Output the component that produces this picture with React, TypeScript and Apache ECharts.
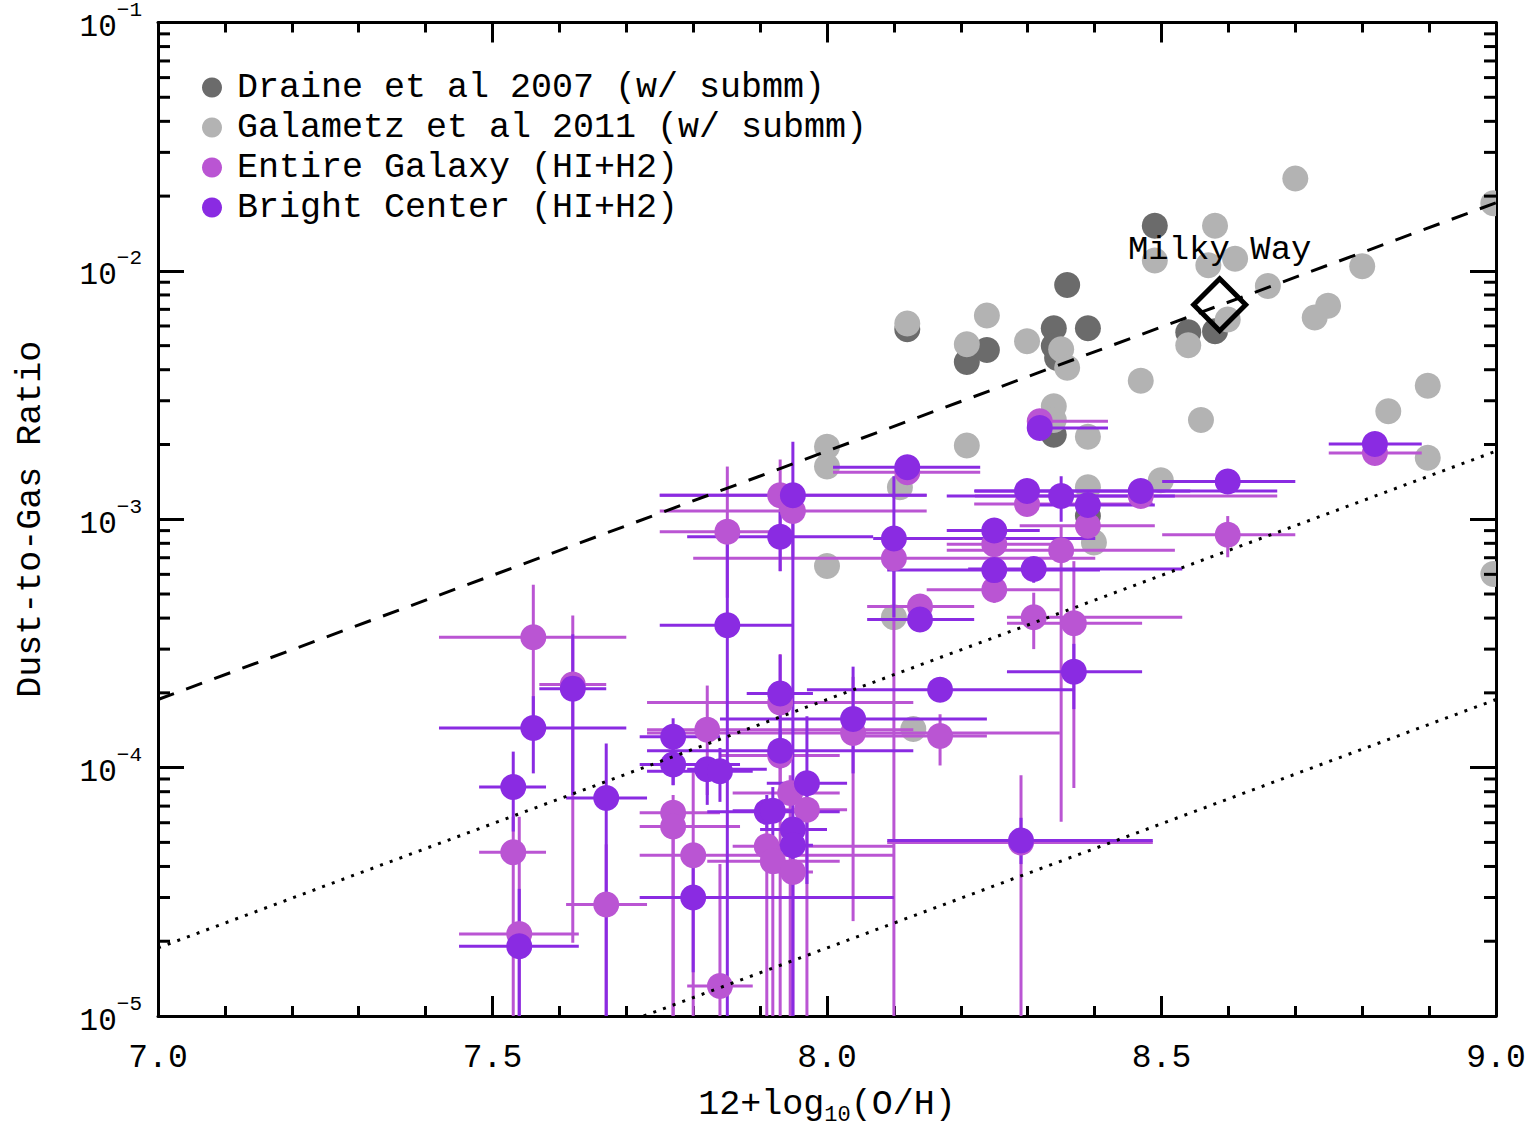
import React, { useEffect, useRef } from "react";
import * as echarts from "echarts";

const FONT = '"Liberation Mono", "DejaVu Sans Mono", monospace';

// Axis ranges and tick values
const X_MIN = 7.0;
const X_MAX = 9.0;
const X_INTERVAL = 0.5;
const Y_MIN = 1e-5;
const Y_MAX = 1e-1;
const Y_MINOR_TICKS = [
  2e-5, 3e-5, 4e-5, 5e-5, 6e-5, 7e-5, 8e-5, 9e-5,
  2e-4, 3e-4, 4e-4, 5e-4, 6e-4, 7e-4, 8e-4, 9e-4,
  2e-3, 3e-3, 4e-3, 5e-3, 6e-3, 7e-3, 8e-3, 9e-3,
  2e-2, 3e-2, 4e-2, 5e-2, 6e-2, 7e-2, 8e-2, 9e-2,
];

// Series names
const NAME_DRAINE = "Draine et al 2007 (w/ submm)";
const NAME_GALAMETZ = "Galametz et al 2011 (w/ submm)";
const NAME_ENTIRE = "Entire Galaxy (HI+H2)";
const NAME_BRIGHT = "Bright Center (HI+H2)";

// Draine et al 2007: [12+log(O/H), DGR]
const draine: number[][] = [
  [8.490, 1.52e-2], [8.359, 8.77e-3], [8.120, 5.82e-3], [8.209, 4.30e-3],
  [8.239, 4.80e-3], [8.339, 5.87e-3], [8.339, 4.98e-3], [8.344, 4.46e-3],
  [8.390, 5.87e-3], [8.540, 5.66e-3], [8.580, 5.71e-3], [8.339, 2.19e-3],
  [8.390, 1.03e-3],
];

// Galametz et al 2011: [12+log(O/H), DGR]
const galametz: number[][] = [
  [8.490, 1.10e-2], [8.239, 6.61e-3], [8.120, 6.14e-3], [8.209, 5.07e-3],
  [8.299, 5.21e-3], [8.350, 4.84e-3], [8.359, 4.07e-3], [8.469, 3.61e-3],
  [8.339, 2.85e-3], [8.339, 2.51e-3], [8.390, 2.15e-3], [8.209, 1.98e-3],
  [8.499, 1.436e-3], [8.000, 1.96e-3], [8.000, 1.63e-3], [8.109, 1.345e-3],
  [8.000, 6.48e-4], [8.100, 4.03e-4], [8.129, 1.43e-4], [8.399, 8.07e-4],
  [8.559, 2.51e-3], [8.700, 2.355e-2], [8.580, 1.52e-2], [8.570, 1.054e-2],
  [8.610, 1.12e-2], [8.659, 8.69e-3], [8.800, 1.045e-2], [8.996, 1.87e-2],
  [8.540, 5.02e-3], [8.599, 6.37e-3], [8.749, 7.24e-3], [8.729, 6.49e-3],
  [8.898, 3.45e-3], [8.839, 2.72e-3], [8.898, 1.77e-3], [8.996, 6.02e-4],
  [8.390, 1.345e-3],
];

// Entire Galaxy: [x, y, xLow, xHigh, yLow, yHigh]
const entireGalaxy: number[][] = [
  [7.561, 3.35e-4, 7.420, 7.700, 1.61e-4, 5.45e-4],
  [7.620, 2.16e-4, 7.570, 7.670, 1.97e-5, 4.10e-4],
  [7.531, 4.56e-5, 7.480, 7.580, 5e-6, 6.34e-5],
  [7.540, 2.14e-5, 7.450, 7.629, 5e-6, 6.34e-5],
  [7.670, 2.81e-5, 7.610, 7.731, 5e-6, 4.91e-5],
  [7.770, 6.58e-5, 7.720, 7.840, 5e-6, 7.76e-5],
  [7.770, 5.79e-5, 7.720, 7.870, 5e-6, 7.08e-5],
  [7.800, 4.44e-5, 7.720, 8.100, 5e-6, 9.57e-5],
  [7.821, 1.42e-4, 7.731, 8.129, 7.76e-5, 2.14e-4],
  [7.840, 1.32e-5, 7.791, 7.889, 5e-6, 4.09e-5],
  [7.851, 8.91e-4, 7.750, 7.949, 4.83e-4, 1.63e-3],
  [7.930, 1.25e-3, 7.750, 8.149, 6.18e-4, 1.74e-3],
  [7.949, 1.08e-3, 7.750, 8.149, 6.97e-4, 1.32e-3],
  [7.930, 1.83e-4, 7.731, 8.129, 5e-6, 2.87e-4],
  [7.930, 1.12e-4, 7.840, 8.019, 7.76e-5, 1.28e-4],
  [7.945, 7.91e-5, 7.859, 8.019, 5e-6, 9.31e-5],
  [7.970, 6.76e-5, 7.910, 8.030, 5e-6, 8.13e-5],
  [7.910, 4.82e-5, 7.859, 8.100, 5e-6, 5.90e-5],
  [7.919, 4.20e-5, 7.821, 8.019, 5e-6, 5.14e-5],
  [7.949, 3.80e-5, 7.919, 7.979, 5e-6, 4.48e-5],
  [8.039, 1.38e-4, 7.731, 8.348, 2.41e-5, 2.32e-4],
  [8.100, 6.97e-4, 7.800, 8.401, 5e-6, 8.0e-4],
  [8.120, 1.545e-3, 8.009, 8.229, 1.38e-3, 1.71e-3],
  [8.139, 4.45e-4, 8.060, 8.220, 4.03e-4, 4.92e-4],
  [8.169, 1.34e-4, 8.030, 8.239, 1.02e-4, 1.64e-4],
  [8.250, 7.93e-4, 8.179, 8.348, 7.16e-4, 8.75e-4],
  [8.250, 5.2e-4, 8.149, 8.348, 4.61e-4, 5.81e-4],
  [8.309, 4.03e-4, 8.269, 8.531, 3.0e-4, 5.06e-4],
  [8.299, 1.153e-3, 8.220, 8.487, 1.05e-3, 1.26e-3],
  [8.318, 2.48e-3, 8.300, 8.420, 2.245e-3, 2.75e-3],
  [8.350, 7.5e-4, 8.179, 8.520, 6.06e-5, 9.42e-4],
  [8.290, 5.0e-5, 8.090, 8.487, 5e-6, 9.31e-5],
  [8.369, 3.81e-4, 8.269, 8.471, 8.28e-5, 6.78e-4],
  [8.390, 9.42e-4, 8.288, 8.490, 8.37e-4, 1.05e-3],
  [8.469, 1.24e-3, 8.221, 8.673, 1.14e-3, 1.345e-3],
  [8.599, 8.67e-4, 8.501, 8.700, 7.03e-4, 1.03e-3],
  [8.819, 1.85e-3, 8.750, 8.889, 1.71e-3, 2.0e-3],
];

// Bright Center: [x, y, xLow, xHigh, yLow, yHigh]
const brightCenter: number[][] = [
  [7.531, 8.35e-5, 7.480, 7.580, 5.53e-5, 1.16e-4],
  [7.540, 1.91e-5, 7.450, 7.629, 5e-6, 3.25e-5],
  [7.561, 1.445e-4, 7.420, 7.700, 9.48e-5, 1.94e-4],
  [7.620, 2.08e-4, 7.570, 7.670, 7.76e-5, 3.44e-4],
  [7.670, 7.55e-5, 7.610, 7.731, 5e-6, 1.25e-4],
  [7.770, 1.33e-4, 7.720, 7.840, 8.5e-5, 1.58e-4],
  [7.770, 1.03e-4, 7.720, 7.870, 8.5e-5, 1.28e-4],
  [7.800, 3.0e-5, 7.720, 8.100, 1.5e-5, 4.48e-5],
  [7.821, 9.84e-5, 7.791, 7.910, 7.08e-5, 1.05e-4],
  [7.840, 9.66e-5, 7.731, 7.889, 7.28e-5, 1.20e-4],
  [7.851, 3.74e-4, 7.750, 7.949, 5e-6, 8.0e-4],
  [7.930, 8.51e-4, 7.791, 8.069, 6.18e-4, 1.07e-3],
  [7.930, 1.99e-4, 7.880, 7.979, 1.19e-4, 2.84e-4],
  [7.930, 1.17e-4, 7.731, 8.129, 9.93e-5, 1.43e-4],
  [7.949, 1.25e-3, 7.750, 8.149, 5e-6, 2.05e-3],
  [7.910, 6.64e-5, 7.821, 8.019, 5.64e-5, 7.76e-5],
  [7.919, 6.70e-5, 7.859, 7.979, 5.05e-5, 8.35e-5],
  [7.949, 5.64e-5, 7.900, 8.000, 4.91e-5, 6.17e-5],
  [7.949, 4.87e-5, 7.919, 7.979, 4.09e-5, 5.64e-5],
  [7.970, 8.65e-5, 7.910, 8.030, 3.4e-5, 1.61e-4],
  [8.039, 1.57e-4, 7.840, 8.239, 9.48e-5, 2.55e-4],
  [8.100, 8.37e-4, 8.069, 8.401, 4.03e-4, 1.49e-3],
  [8.120, 1.62e-3, 8.009, 8.229, 1.48e-3, 1.77e-3],
  [8.139, 3.95e-4, 8.060, 8.220, 3.61e-4, 4.33e-4],
  [8.169, 2.06e-4, 7.970, 8.368, 1.88e-4, 2.26e-4],
  [8.250, 9.0e-4, 8.179, 8.318, 8.22e-4, 9.87e-4],
  [8.250, 6.24e-4, 8.090, 8.408, 5.55e-4, 6.97e-4],
  [8.309, 6.3e-4, 8.211, 8.531, 5.55e-4, 6.97e-4],
  [8.299, 1.30e-3, 8.220, 8.543, 1.18e-3, 1.42e-3],
  [8.318, 2.33e-3, 8.300, 8.420, 2.13e-3, 2.55e-3],
  [8.350, 1.24e-3, 8.179, 8.520, 9.77e-4, 1.49e-3],
  [8.290, 5.09e-5, 8.090, 8.487, 4.09e-5, 6.28e-5],
  [8.369, 2.43e-4, 8.269, 8.471, 1.72e-4, 3.15e-4],
  [8.390, 1.14e-3, 8.288, 8.490, 1.04e-3, 1.25e-3],
  [8.469, 1.30e-3, 8.221, 8.673, 1.205e-3, 1.38e-3],
  [8.599, 1.42e-3, 8.501, 8.700, 1.32e-3, 1.52e-3],
  [8.819, 2.01e-3, 8.750, 8.889, 1.905e-3, 2.13e-3],
];

// Reference lines (end points)
const dashedLine: number[][] = [[7.0, 1.88e-4], [9.0, 1.88e-2]];
const dottedUpper: number[][] = [[7.0, 1.88e-5], [9.0, 1.88e-3]];
const dottedLower: number[][] = [[7.726, 1.0e-5], [9.0, 1.88e-4]];

// Milky Way
const milkyWay: number[] = [8.587, 7.3e-3];

const C_DRAINE = "#6b6b6b";
const C_GALAMETZ = "#b3b3b3";
const C_ENTIRE = "#ba55d3";
const C_BRIGHT = "#8a2be2";

function circleSeries(name: string, data: number[][], color: string) {
  return {
    type: "custom",
    name,
    data,
    clip: true,
    encode: { x: 0, y: 1 },
    itemStyle: { color },
    renderItem: (_p: any, api: any) => {
      const c = api.coord([api.value(0), api.value(1)]);
      return {
        type: "circle",
        shape: { cx: c[0], cy: c[1], r: 13 },
        style: { fill: color },
      };
    },
  };
}

function errorSeries(data: number[][], color: string) {
  return {
    type: "custom",
    data,
    clip: true,
    encode: { x: 0, y: 1 },
    silent: true,
    renderItem: (_p: any, api: any) => {
      const x = api.value(0);
      const y = api.value(1);
      const c = api.coord([x, y]);
      const l = api.coord([api.value(2), y]);
      const r = api.coord([api.value(3), y]);
      const b = api.coord([x, api.value(4)]);
      const t = api.coord([x, api.value(5)]);
      return {
        type: "group",
        children: [
          {
            type: "line",
            shape: { x1: l[0], y1: c[1], x2: r[0], y2: c[1] },
            style: { stroke: color, lineWidth: 3 },
          },
          {
            type: "line",
            shape: { x1: c[0], y1: t[1], x2: c[0], y2: b[1] },
            style: { stroke: color, lineWidth: 3 },
          },
        ],
      };
    },
  };
}

export default function App() {
  const ref = useRef<HTMLDivElement>(null);

  useEffect(() => {
    if (!ref.current) return;
    const chart = echarts.init(ref.current, null, { renderer: "svg" });

    const axisLineStyle = { color: "#000", width: 3 };
    const xAxisCommon = {
      type: "value",
      min: X_MIN,
      max: X_MAX,
      interval: X_INTERVAL,
      splitLine: { show: false },
      axisLine: { show: true, lineStyle: axisLineStyle, onZero: false },
      axisTick: { show: true, inside: true, length: 20, lineStyle: { color: "#000", width: 3 } },
      minorTick: { show: true, splitNumber: 5, length: 10, lineStyle: { color: "#000", width: 3 } },
      minorSplitLine: { show: false },
    };
    const yAxisCommon = {
      type: "log",
      logBase: 10,
      min: Y_MIN,
      max: Y_MAX,
      splitLine: { show: false },
      axisLine: { show: true, lineStyle: axisLineStyle, onZero: false },
      axisTick: { show: true, inside: true, length: 26, lineStyle: { color: "#000", width: 3 } },
    };

    const option: any = {
      animation: false,
      backgroundColor: "#fff",
      grid: { left: 158, top: 17, width: 1338, height: 1007, containLabel: false },
      legend: {
        left: 202,
        top: 70,
        padding: 0,
        orient: "vertical",
        itemWidth: 40,
        itemHeight: 20,
        itemGap: 5,
        selectedMode: false,
        data: [
          { name: NAME_DRAINE, icon: "circle" },
          { name: NAME_GALAMETZ, icon: "circle" },
          { name: NAME_ENTIRE, icon: "circle" },
          { name: NAME_BRIGHT, icon: "circle" },
        ],
        textStyle: {
          fontFamily: FONT,
          fontSize: 35,
          color: "#000",
        },
      },
      xAxis: [
        {
          ...xAxisCommon,
          position: "bottom",
          name: "12+log{sub|10}(O/H)",
          nameLocation: "middle",
          nameGap: 68,
          nameTextStyle: {
            fontFamily: FONT,
            fontSize: 35,
            color: "#000",
            rich: {
              sub: { fontFamily: FONT, fontSize: 22, color: "#000", padding: [20, 0, 0, 0] },
            },
          },
          axisLabel: {
            show: true,
            margin: 26,
            fontFamily: FONT,
            fontSize: 33,
            color: "#000",
            formatter: (v: number) => v.toFixed(1),
          },
        },
        {
          ...xAxisCommon,
          position: "top",
          axisLabel: { show: false },
        },
      ],
      yAxis: [
        {
          ...yAxisCommon,
          position: "left",
          name: "Dust-to-Gas Ratio",
          nameLocation: "middle",
          nameGap: 110,
          nameTextStyle: { fontFamily: FONT, fontSize: 35, color: "#000" },
          axisLabel: {
            show: true,
            margin: 16,
            color: "#000",
            formatter: (v: number) => {
              const e = Math.round(Math.log10(v));
              return "{a|10}{b|\u2212" + String(-e) + "}";
            },
            rich: {
              a: { fontFamily: FONT, fontSize: 31, color: "#000", padding: [10, 0, 0, 0] },
              b: { fontFamily: FONT, fontSize: 21, color: "#000", padding: [0, 0, 24, 0] },
            },
          },
        },
        {
          ...yAxisCommon,
          position: "right",
          axisLabel: { show: false },
        },
      ],
      series: [
        circleSeries(NAME_DRAINE, draine, C_DRAINE),
        circleSeries(NAME_GALAMETZ, galametz, C_GALAMETZ),
        errorSeries(entireGalaxy, C_ENTIRE),
        {
          type: "scatter",
          name: NAME_ENTIRE,
          data: entireGalaxy.map((r) => [r[0], r[1]]),
          symbol: "circle",
          symbolSize: 26,
          itemStyle: { color: C_ENTIRE, opacity: 1 },
          emphasis: { disabled: true },
        },
        errorSeries(brightCenter, C_BRIGHT),
        {
          type: "scatter",
          name: NAME_BRIGHT,
          data: brightCenter.map((r) => [r[0], r[1]]),
          symbol: "circle",
          symbolSize: 26,
          itemStyle: { color: C_BRIGHT, opacity: 1 },
          emphasis: { disabled: true },
        },
        {
          type: "line",
          data: dashedLine,
          symbol: "none",
          silent: true,
          lineStyle: { color: "#000", width: 3, type: [17, 13] },
        },
        {
          type: "line",
          data: dottedUpper,
          symbol: "none",
          silent: true,
          lineStyle: { color: "#000", width: 3, type: [3, 7.3] },
        },
        {
          type: "line",
          data: dottedLower,
          symbol: "none",
          silent: true,
          lineStyle: { color: "#000", width: 3, type: [3, 7.3] },
        },
        {
          type: "scatter",
          data: [milkyWay],
          symbol: "diamond",
          symbolSize: 52,
          silent: true,
          itemStyle: { color: "rgba(0,0,0,0)", borderColor: "#000", borderWidth: 5, opacity: 1 },
          label: {
            show: true,
            position: "top",
            distance: 9,
            formatter: "Milky Way",
            fontFamily: FONT,
            fontSize: 34,
            color: "#000",
          },
        },
        {
          type: "custom",
          data: Y_MINOR_TICKS.map((v) => [X_MIN, v]),
          clip: false,
          silent: true,
          encode: { x: 0, y: 1 },
          renderItem: (_p: any, api: any) => {
            const v = api.value(1);
            const l = api.coord([X_MIN, v]);
            const r = api.coord([X_MAX, v]);
            return {
              type: "group",
              children: [
                {
                  type: "line",
                  shape: { x1: l[0], y1: l[1], x2: l[0] + 12, y2: l[1] },
                  style: { stroke: "#000", lineWidth: 3 },
                },
                {
                  type: "line",
                  shape: { x1: r[0] - 12, y1: r[1], x2: r[0], y2: r[1] },
                  style: { stroke: "#000", lineWidth: 3 },
                },
              ],
            };
          },
        },
      ],
    };

    chart.setOption(option);
    return () => {
      chart.dispose();
    };
  }, []);

  return (
    <div
      ref={ref}
      style={{ position: "fixed", left: 0, top: 0, width: 1530, height: 1131, background: "#fff" }}
    />
  );
}
